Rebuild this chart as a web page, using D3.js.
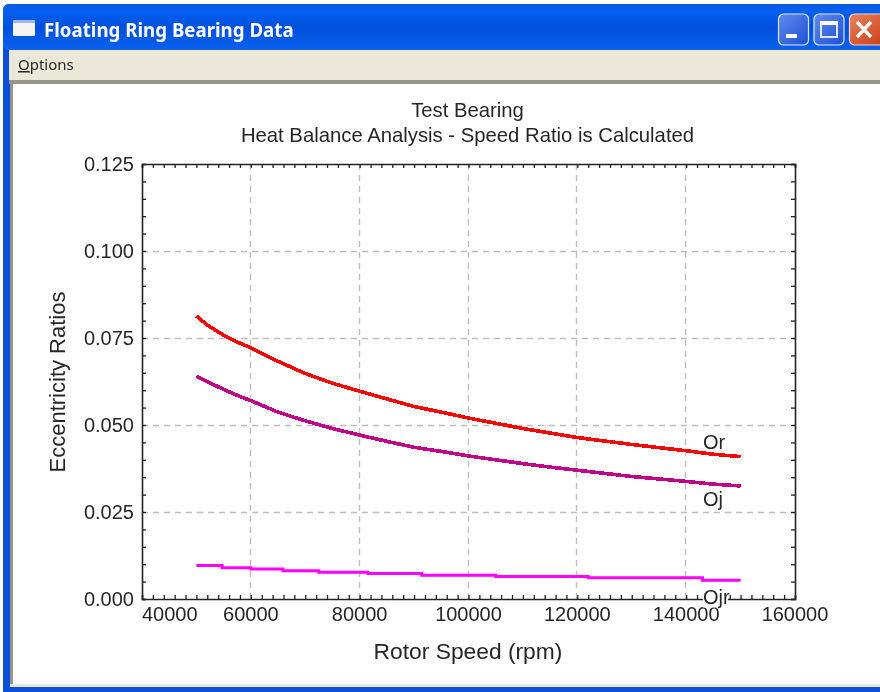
<!DOCTYPE html>
<meta charset="utf-8">
<style>
  html, body { margin: 0; padding: 0; background: #fff; }
  text { fill: #262626; }
</style>
<script src="https://d3js.org/d3.v7.min.js"></script>
<div id="chart"></div>
<script>

// values
var rpm   = [50000, 52000, 55000, 58000, 60000, 65000, 70000, 75000, 80000, 85000, 90000, 95000, 100000, 105000, 110000, 115000, 120000, 125000, 130000, 135000, 140000, 145000, 150000];
var orVal = [0.0813, 0.0787, 0.0758, 0.0735, 0.0722, 0.0683, 0.0648, 0.0620, 0.0597, 0.0575, 0.0553, 0.0537, 0.0520, 0.0505, 0.0490, 0.0477, 0.0464, 0.0454, 0.0444, 0.0435, 0.0426, 0.0416, 0.0409];
var ojVal = [0.0640, 0.0625, 0.0602, 0.0582, 0.0570, 0.0537, 0.0512, 0.0490, 0.0471, 0.0453, 0.0436, 0.0424, 0.0411, 0.0400, 0.0389, 0.0379, 0.0370, 0.0361, 0.0352, 0.0345, 0.0338, 0.0330, 0.0325];
// this one comes out as flat steps, so only the step points are kept
var ojrRpm = [50000, 54700, 60000, 65900, 72500, 81500, 91400, 105000, 122000, 143000, 150000];
var ojrVal = [0.0096, 0.0090, 0.0086, 0.0081, 0.0077, 0.0073, 0.0068, 0.0065, 0.0061, 0.0054, 0.0054];

var xTicks = [40000, 60000, 80000, 100000, 120000, 140000, 160000];
var yTicks = [0, 0.025, 0.05, 0.075, 0.1, 0.125];
var titleLines = ["Test Bearing", "Heat Balance Analysis - Speed Ratio is Calculated"];

var W = 880, H = 692;
var margin = {top: 164, right: 85, bottom: 93, left: 142},
    width = W - margin.left - margin.right,
    height = H - margin.top - margin.bottom;

var svg = d3.select("#chart").append("svg")
    .attr("width", W)
    .attr("height", H)
    .style("display", "block")
    .style("filter", "blur(0.4px)");

// ---- window frame ----
var defs = svg.append("defs");
var tb = defs.append("linearGradient").attr("id", "titlebar").attr("x1", 0).attr("x2", 0).attr("y1", 0).attr("y2", 1);
tb.append("stop").attr("offset", "0").attr("stop-color", "#0a5ae0");
tb.append("stop").attr("offset", "0.15").attr("stop-color", "#0560f0");
tb.append("stop").attr("offset", "0.5").attr("stop-color", "#0050dc");
tb.append("stop").attr("offset", "1").attr("stop-color", "#0a62ee");
var btn = defs.append("linearGradient").attr("id", "btnblue").attr("x1", 0).attr("x2", 1).attr("y1", 0).attr("y2", 1);
btn.append("stop").attr("offset", "0").attr("stop-color", "#5f8cf0");
btn.append("stop").attr("offset", "1").attr("stop-color", "#1f4fd0");
var btr = defs.append("linearGradient").attr("id", "btnred").attr("x1", 0).attr("x2", 1).attr("y1", 0).attr("y2", 1);
btr.append("stop").attr("offset", "0").attr("stop-color", "#e9805c");
btr.append("stop").attr("offset", "1").attr("stop-color", "#c83a10");

// the picture is cropped on the right, so the frame runs off that edge
svg.append("rect").attr("x", 3).attr("y", 4).attr("width", W + 10).attr("height", H).attr("rx", 6).attr("fill", "#0a50dc");
svg.append("rect").attr("x", 3).attr("y", 4).attr("width", W + 10).attr("height", 46).attr("rx", 6).attr("fill", "url(#titlebar)");
svg.append("rect").attr("x", 9).attr("y", 50).attr("width", W - 9).attr("height", 31).attr("fill", "#ebe8da");
svg.append("rect").attr("x", 9).attr("y", 80).attr("width", W - 9).attr("height", 4).attr("fill", "#97948a");
svg.append("rect").attr("x", 10).attr("y", 84).attr("width", 3).attr("height", 600).attr("fill", "#97948a");
svg.append("rect").attr("x", 13).attr("y", 84).attr("width", W - 13).attr("height", 600).attr("fill", "#fff");
svg.append("rect").attr("x", 10).attr("y", 684).attr("width", W - 10).attr("height", 3).attr("fill", "#ebe8da");

// title bar icon and caption
svg.append("rect").attr("x", 13).attr("y", 20).attr("width", 22).attr("height", 16).attr("rx", 1).attr("fill", "#f4f4f4");
svg.append("rect").attr("x", 13).attr("y", 20).attr("width", 22).attr("height", 3).attr("fill", "#9db8ee");
svg.append("text").attr("x", 44).attr("y", 37)
    .style("font-family", "Noto Sans, DejaVu Sans, sans-serif")
    .style("font-weight", "bold").style("font-size", "18.7px").style("fill", "#fff")
    .text("Floating Ring Bearing Data");

// the three window buttons
svg.append("rect").attr("x", 778.5).attr("y", 14).attr("width", 30).attr("height", 31).attr("rx", 5).attr("fill", "url(#btnblue)").attr("stroke", "#dfe8fb").attr("stroke-width", 1.2);
svg.append("rect").attr("x", 786).attr("y", 34).attr("width", 11).attr("height", 4).attr("fill", "#fff");
svg.append("rect").attr("x", 814).attr("y", 14).attr("width", 30).attr("height", 31).attr("rx", 5).attr("fill", "url(#btnblue)").attr("stroke", "#dfe8fb").attr("stroke-width", 1.2);
svg.append("rect").attr("x", 821).attr("y", 22).attr("width", 16).attr("height", 15).attr("fill", "none").attr("stroke", "#dfe8fb").attr("stroke-width", 2);
svg.append("rect").attr("x", 820).attr("y", 21).attr("width", 18).attr("height", 4).attr("fill", "#fff");
svg.append("rect").attr("x", 849.5).attr("y", 14).attr("width", 40).attr("height", 31).attr("rx", 5).attr("fill", "url(#btnred)").attr("stroke", "#f0d8d0").attr("stroke-width", 1.2);
svg.append("path").attr("d", "M857,22L871,37M871,22L857,37").attr("stroke", "#fff").attr("stroke-width", 3.4);

// menu
var menu = svg.append("text").attr("x", 18).attr("y", 70)
    .style("font-family", "Noto Sans, DejaVu Sans, sans-serif").style("font-size", "15px");
menu.append("tspan").style("text-decoration", "underline").text("O");
menu.append("tspan").text("ptions");

// ---- chart ----
var g = svg.append("g").attr("transform", "translate(" + margin.left + "," + margin.top + ")");

var x = d3.scaleLinear().domain([40000, 160000]).range([0, width]);
var y = d3.scaleLinear().domain([0, 0.125]).range([height, 0]);

// grid
g.append("g").selectAll("line").data(xTicks.slice(1, -1)).join("line")
    .attr("x1", d => Math.round(x(d)) - .5).attr("x2", d => Math.round(x(d)) - .5)
    .attr("y1", 0).attr("y2", height)
    .attr("stroke", "#bdbdbd").attr("stroke-width", 1.4).attr("stroke-dasharray", "6,5");
g.append("g").selectAll("line").data(yTicks.slice(1, -1)).join("line")
    .attr("y1", d => Math.round(y(d)) + .5).attr("y2", d => Math.round(y(d)) + .5)
    .attr("x1", 0).attr("x2", width)
    .attr("stroke", "#bdbdbd").attr("stroke-width", 1.4).attr("stroke-dasharray", "6,5");

// axes: minor ticks every 2000 rpm and every 0.005, pointing in on all four sides
var xMinor = d3.range(40000, 160001, 2000);
var yMinor = d3.range(0, 26).map(i => i * 0.005);
var tickCol = "#222";

g.append("g").attr("transform", "translate(0," + height + ")").call(d3.axisBottom(x).tickValues(xMinor).tickSize(-4).tickFormat(""));
g.append("g").call(d3.axisTop(x).tickValues(xMinor).tickSize(-4).tickFormat(""));
g.append("g").call(d3.axisLeft(y).tickValues(yMinor).tickSize(-4).tickFormat(""));
g.append("g").attr("transform", "translate(" + width + ",0)").call(d3.axisRight(y).tickValues(yMinor).tickSize(-4).tickFormat(""));
g.selectAll(".domain").attr("stroke", tickCol).attr("stroke-width", 1.6);
g.selectAll(".tick line").attr("stroke", tickCol).attr("stroke-width", 1.3);

// tick labels
var labelFont = "Liberation Sans, Arial, sans-serif";
g.append("g").selectAll("text").data(xTicks).join("text")
    .attr("x", d => x(d))
    .attr("y", height + 22)
    // first label is pushed right of the axis corner, as in the original
    .attr("text-anchor", (d, i) => i == 0 ? "start" : "middle")
    .style("font-family", labelFont).style("font-size", "20px")
    .text(d => d);
g.append("g").selectAll("text").data(yTicks).join("text")
    .attr("x", -8).attr("y", d => y(d) + 7)
    .attr("text-anchor", "end")
    .style("font-family", labelFont).style("font-size", "20px")
    .text(d => d3.format(".3f")(d));

// the curves
var line = d3.line().x(d => x(d[0])).y(d => y(d[1]));
var stepLine = d3.line().x(d => x(d[0])).y(d => y(d[1])).curve(d3.curveStepAfter);

g.append("path")
    .datum(ojrRpm.map((r, i) => [r, ojrVal[i]]))
    .attr("fill", "none").attr("stroke", "#ff00ff").attr("stroke-width", 3)
    .attr("d", stepLine);
g.append("path")
    .datum(rpm.map((r, i) => [r, ojVal[i]]))
    .attr("fill", "none").attr("stroke", "#c00088").attr("stroke-width", 3.6)
    .attr("shape-rendering", "crispEdges")
    .attr("d", line);
g.append("path")
    .datum(rpm.map((r, i) => [r, orVal[i]]))
    .attr("fill", "none").attr("stroke", "#ff0000").attr("stroke-width", 3.6)
    .attr("shape-rendering", "crispEdges")
    .attr("d", line);

// curve labels; Ojr sits on a white box that covers the axis and part of the tick label
var labelNames = ["Or", "Oj", "Ojr"];
var labelX = [143100, 143100, 143100];
var labelY = [0.0431, 0.0267, -0.0013];
labelNames.forEach(function(t, i) {
  if (t == "Ojr") {
    g.append("rect").attr("x", x(labelX[i])).attr("y", y(labelY[i]) - 14).attr("width", 25).attr("height", 18).attr("fill", "#fff");
  }
  g.append("text").attr("x", x(labelX[i])).attr("y", y(labelY[i]))
    .style("font-family", labelFont).style("font-size", "20px")
    .text(t);
});

// titles
titleLines.forEach(function(t, i) {
  svg.append("text").attr("x", 467.5).attr("y", 117 + i * 25)
    .attr("text-anchor", "middle")
    .style("font-family", labelFont).style("font-size", "20.3px")
    .text(t);
});
svg.append("text").attr("x", 468).attr("y", 659)
    .attr("text-anchor", "middle")
    .style("font-family", labelFont).style("font-size", "22.8px")
    .text("Rotor Speed (rpm)");
svg.append("text").attr("transform", "translate(65,382) rotate(-90)")
    .attr("text-anchor", "middle")
    .style("font-family", labelFont).style("font-size", "22px")
    .text("Eccentricity Ratios");

</script>
